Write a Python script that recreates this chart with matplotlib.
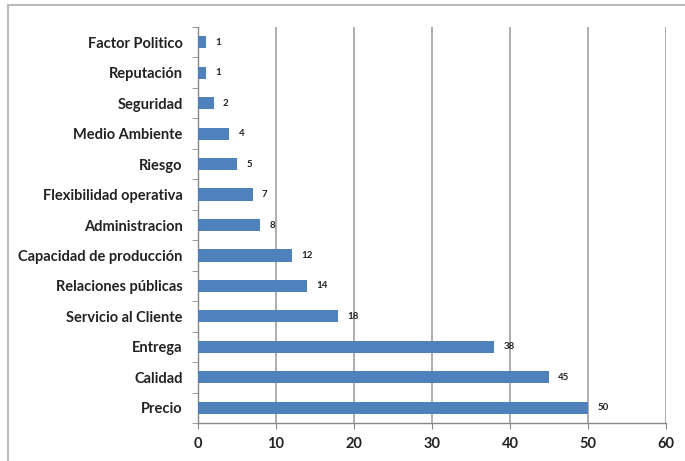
import matplotlib
matplotlib.use("Agg")
import matplotlib.pyplot as plt
from matplotlib.lines import Line2D

categories = ["Factor Politico", "Reputación", "Seguridad", "Medio Ambiente", "Riesgo",
              "Flexibilidad operativa", "Administracion", "Capacidad de producción",
              "Relaciones públicas", "Servicio al Cliente", "Entrega", "Calidad", "Precio"]
values = [1, 1, 2, 4, 5, 7, 8, 12, 14, 18, 38, 45, 50]
xticks = [0, 10, 20, 30, 40, 50, 60]

plt.rcParams['font.family'] = ['Lato', 'DejaVu Sans']

W, H = 685, 461
fig = plt.figure(figsize=(W/100, H/100), dpi=100)
ax = fig.add_axes([198/W, 1-423/H, (666-198)/W, (423-27)/H])

n = len(categories)
ypos = list(range(n))
ax.barh(ypos, values, height=0.4, color="#4F81BD", zorder=3)
ax.set_ylim(n-0.5, -0.5)
ax.set_xlim(0, 60)
ax.set_xticks(xticks)
ax.set_xticklabels([str(t) for t in xticks], fontsize=10.5, color="#222222", fontweight="bold")
ax.set_yticks(ypos)
ax.set_yticklabels(categories, fontsize=10.5, color="#222222", fontweight="bold")
ax.set_yticks([i-0.5 for i in range(n+1)], minor=True)
ax.tick_params(axis="y", which="major", length=0, pad=11)
ax.tick_params(axis="y", which="minor", length=4, color="#888888", direction="out")
ax.tick_params(axis="x", length=4, color="#888888", direction="out", pad=6)
ax.grid(axis="x", color="#a0a0a0", linewidth=1.2, zorder=0)
for s in ["top", "right"]:
    ax.spines[s].set_visible(False)
for s in ["left", "bottom"]:
    ax.spines[s].set_color("#888888")
    ax.spines[s].set_linewidth(1.0)

for y, v in zip(ypos, values):
    ax.text(v + 1.2, y, str(v), va="center", ha="left", fontsize=7,
            fontweight="bold", color="#222222", zorder=4)

fig.add_artist(Line2D([8/W, 8/W], [0, 1-5/H], transform=fig.transFigure,
                      color="#bbbbbb", linewidth=1.5))
fig.add_artist(Line2D([8/W, 1], [1-5/H, 1-5/H], transform=fig.transFigure,
                      color="#bbbbbb", linewidth=1.5))

fig.savefig("out.png", dpi=100)
